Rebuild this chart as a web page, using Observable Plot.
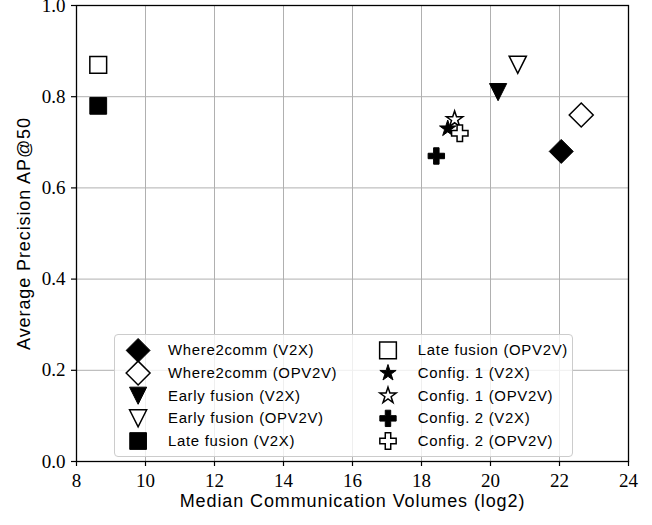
<!DOCTYPE html>
<html>
<head>
<meta charset="utf-8">
<script src="https://cdn.jsdelivr.net/npm/d3@7"></script>
<script src="https://cdn.jsdelivr.net/npm/@observablehq/plot@0.6"></script>
<style>
  html, body { margin: 0; padding: 0; background: white; }
  #wrap { position: relative; width: 652px; height: 525px; }
  #legend {
    position: absolute; left: 114px; top: 334px; width: 459px; height: 123px;
    box-sizing: border-box; border: 1px solid #cccccc; border-radius: 4px;
    background: rgba(255,255,255,0.8);
  }
  #legend svg { position: absolute; left: -1px; top: -1px; }
  #legend g[aria-label="text"] text { letter-spacing: 0.7px; }
</style>
</head>
<body>
<div id="wrap"><div id="chart"></div><div id="legend"></div></div>
<script>
// ---- data ----
const methods = [
  "Where2comm (V2X)", "Where2comm (OPV2V)", "Early fusion (V2X)", "Early fusion (OPV2V)", "Late fusion (V2X)",
  "Late fusion (OPV2V)", "Config. 1 (V2X)", "Config. 1 (OPV2V)", "Config. 2 (V2X)", "Config. 2 (OPV2V)"
];
const volumes = [22.05, 22.63, 20.22, 20.79, 8.63, 8.63, 18.76, 18.96, 18.43, 19.11];
const precision = [0.68, 0.76, 0.81, 0.87, 0.78, 0.87, 0.73, 0.75, 0.67, 0.72];
const shapes = ["diamond", "diamond", "triangleDown", "triangleDown", "square",
                "square", "star", "star", "plus", "plus"];
const filled = [true, false, true, false, true, false, true, false, true, false];
const xTicks = [8, 10, 12, 14, 16, 18, 20, 22, 24];
const yTicks = [0, 0.2, 0.4, 0.6, 0.8, 1.0];
const xLabel = "Median Communication Volumes (log2)";
const yLabel = "Average Precision AP@50";

// ---- marker shapes (size = pi r^2) ----
const R = s => Math.sqrt(s / Math.PI);
const SYMBOLS = {
  square: {draw(c, s) { const r = R(s); c.moveTo(-r, -r); c.lineTo(r, -r); c.lineTo(r, r); c.lineTo(-r, r); c.closePath(); }},
  diamond: {draw(c, s) { const r = R(s); c.moveTo(0, -r); c.lineTo(r, 0); c.lineTo(0, r); c.lineTo(-r, 0); c.closePath(); }},
  triangleDown: {draw(c, s) { const r = R(s); c.moveTo(-r, -r); c.lineTo(r, -r); c.lineTo(0, r); c.closePath(); }},
  star: {draw(c, s) { const r = R(s), ri = r * 0.381966;
    for (let i = 0; i < 10; i++) { const a = -Math.PI / 2 + i * Math.PI / 5, rr = i % 2 ? ri : r;
      const px = rr * Math.cos(a), py = rr * Math.sin(a); if (i) c.lineTo(px, py); else c.moveTo(px, py); }
    c.closePath(); }},
  plus: {draw(c, s) { const r = R(s), a = r / 3;
    const pts = [[-a,-r],[a,-r],[a,-a],[r,-a],[r,a],[a,a],[a,r],[-a,r],[-a,a],[-r,a],[-r,-a],[-a,-a]];
    pts.forEach(([px, py], i) => i ? c.lineTo(px, py) : c.moveTo(px, py)); c.closePath(); }}
};
const SIZES = {square: 8.4, diamond: 12, triangleDown: 8.6, star: 8.6, plus: 8.2};

const rows = methods.map((m, i) => ({
  method: m, volume: volumes[i], ap: precision[i], shape: shapes[i], filled: filled[i],
  col: Math.floor(i / 5), row: i % 5
}));

function dotMarks(data, xk, yk) {
  return data.map(d => Plot.dot([d], {
    x: xk, y: yk, symbol: SYMBOLS[d.shape], r: SIZES[d.shape],
    fill: d.filled ? "black" : "white", stroke: "black",
    strokeWidth: d.filled ? 1 : 1.5
  }));
}

const serif = "'Liberation Serif', 'Times New Roman', serif";
const sans = "'Liberation Sans', Arial, Helvetica, sans-serif";

const chart = Plot.plot({
  width: 652, height: 525,
  marginLeft: 76, marginRight: 24, marginTop: 5, marginBottom: 64,
  style: {background: "white", overflow: "visible"},
  x: {domain: [8, 24]},
  y: {domain: [0, 1]},
  marks: [
    Plot.gridX({ticks: xTicks, stroke: "#b0b0b0", strokeOpacity: 1, strokeWidth: 1}),
    Plot.gridY({ticks: yTicks, stroke: "#b0b0b0", strokeOpacity: 1, strokeWidth: 1}),
    Plot.axisX({ticks: xTicks, tickSize: 5, label: null, tickFormat: () => "",
      stroke: "black", strokeWidth: 1.2}),
    Plot.axisY({ticks: yTicks, tickSize: 5, label: null, tickFormat: () => "",
      stroke: "black", strokeWidth: 1.2}),
    Plot.text(xTicks, {x: d => d, frameAnchor: "bottom", dy: 12, lineAnchor: "top", textAnchor: "middle",
      text: d => String(d), fontFamily: serif, fontSize: 19, fill: "black"}),
    Plot.text(yTicks, {y: d => d, frameAnchor: "left", dx: -11, lineAnchor: "middle", textAnchor: "end",
      text: d => d3.format(".1f")(d), fontFamily: serif, fontSize: 19, fill: "black"}),
    Plot.frame({stroke: "black", strokeWidth: 1.3}),
    ...dotMarks(rows, "volume", "ap"),
    Plot.text([xLabel], {frameAnchor: "bottom", dy: 40, lineAnchor: "middle", textAnchor: "middle",
      text: d => d, fontFamily: sans, fontSize: 18, fill: "black"}),
    Plot.text([yLabel], {frameAnchor: "left", dx: -52, rotate: -90, lineAnchor: "middle", textAnchor: "middle",
      text: d => d, fontFamily: sans, fontSize: 18, fill: "black"})
  ]
});
chart.querySelectorAll("text").forEach(t => {
  if (t.textContent === xLabel || t.textContent === yLabel) t.style.letterSpacing = "0.9px";
});
document.getElementById("chart").appendChild(chart);

const legend = Plot.plot({
  width: 459, height: 123, margin: 0,
  style: {background: "transparent", overflow: "visible"},
  x: {domain: [0, 1], range: [23.7, 274.7], axis: null},
  y: {domain: [0, 4], range: [16, 107], axis: null},
  marks: [
    ...dotMarks(rows, "col", "row"),
    Plot.text(rows, {x: "col", y: "row", text: "method", dx: 30, textAnchor: "start",
      fontFamily: sans, fontSize: 15, fill: "black"})
  ]
});
document.getElementById("legend").appendChild(legend);
</script>
</body>
</html>
